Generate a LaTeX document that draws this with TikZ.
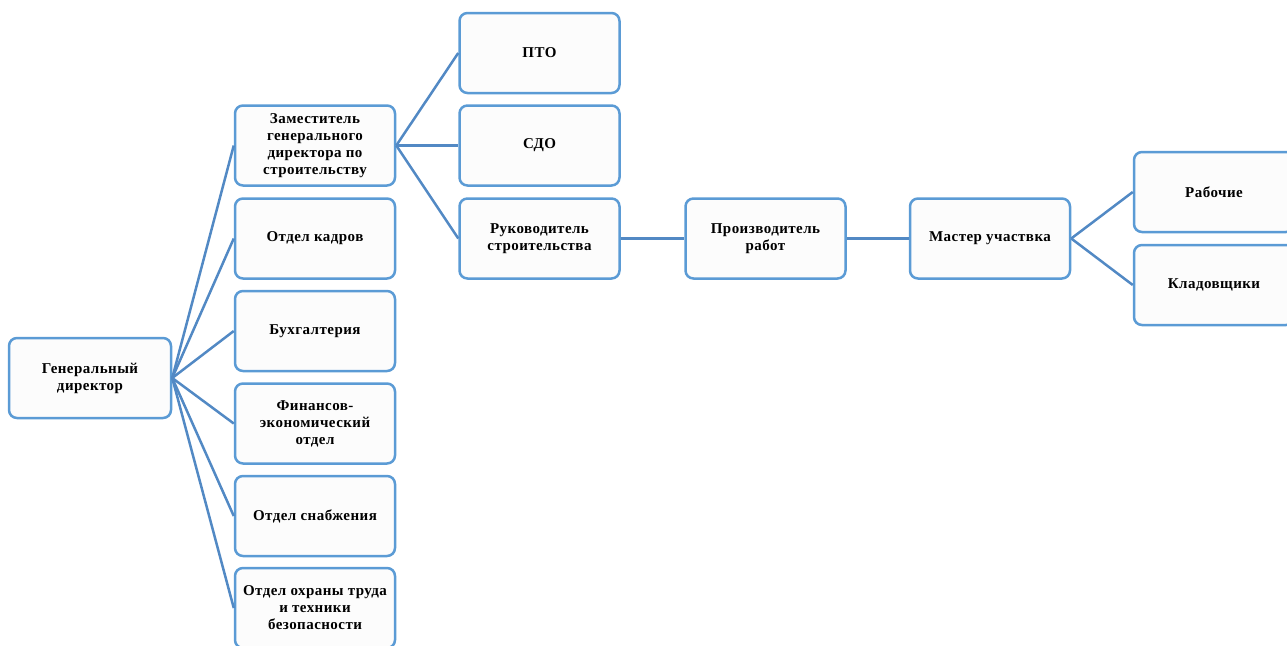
\documentclass[tikz,border=0pt]{standalone}
\usepackage{fontspec}
\setmainfont{Liberation Serif}[LetterSpace=3]
\definecolor{boxblue}{RGB}{91,155,213}
\definecolor{linkblue}{RGB}{82,137,196}
\definecolor{boxfill}{RGB}{252,252,252}
\tikzset{
  unit/.style={draw=boxblue, fill=boxfill, line width=2.5pt, rounded corners=8pt,
    minimum width=160pt, minimum height=80pt, align=center, inner sep=2pt,
    font=\fontsize{15}{17}\selectfont\bfseries, text=black},
  link/.style={draw=linkblue, line width=2.5pt}
}
\begin{document}
\begin{tikzpicture}[x=1pt,y=-1pt]
\useasboundingbox (0,0) rectangle (1287,645);
\clip (0,0) rectangle (1287,645);
\node[unit, minimum width=162pt] (gen) at (90,378) {Генеральный\\директор};
\node[unit] (zam) at (315,145.5) {Заместитель\\генерального\\директора по\\строительству};
\node[unit] (kadr) at (315,238.5) {Отдел кадров};
\node[unit] (buh) at (315,331) {Бухгалтерия};
\node[unit] (fin) at (315,423.5) {Финансов-\\экономический\\отдел};
\node[unit] (snab) at (315,516) {Отдел снабжения};
\node[unit] (ohr) at (315,608) {Отдел охраны труда\\и техники\\безопасности};
\node[unit] (pto) at (539.5,53) {ПТО};
\node[unit] (sdo) at (539.5,145.5) {СДО};
\node[unit] (ruk) at (539.5,238.5) {Руководитель\\строительства};
\node[unit] (proizv) at (765.5,238.5) {Производитель\\работ};
\node[unit] (master) at (990,238.5) {Мастер участвка};
\node[unit] (rab) at (1214,192) {Рабочие};
\node[unit] (klad) at (1214,285) {Кладовщики};
\foreach \t in {zam,kadr,buh,fin,snab,ohr}
  \draw[link] (gen.east) -- (\t.west);
\foreach \t in {pto,sdo,ruk}
  \draw[link] (zam.east) -- (\t.west);
\draw[link] (ruk.east) -- (proizv.west);
\draw[link] (proizv.east) -- (master.west);
\draw[link] (master.east) -- (rab.west);
\draw[link] (master.east) -- (klad.west);
\end{tikzpicture}
\end{document}
